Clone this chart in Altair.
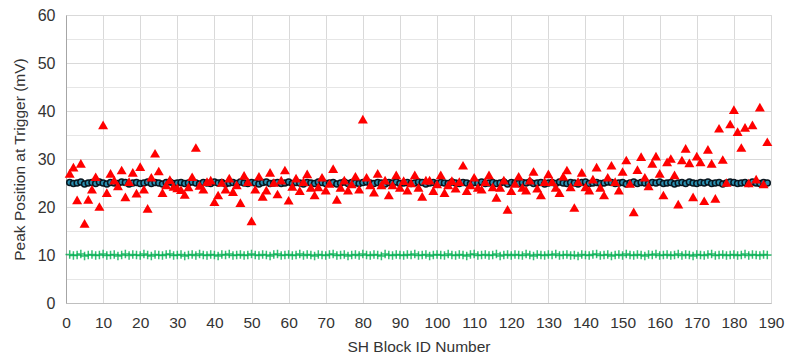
import altair as alt
import pandas as pd

ids = list(range(1, 190))

circle_vals = [
25.1,24.9,25.0,25.2,24.8,25.0,25.1,24.9,25.2,25.0,
24.8,25.1,25.0,24.9,25.2,25.1,24.8,25.0,25.1,24.9,
25.0,25.2,24.9,25.1,25.0,24.8,25.1,25.2,24.9,25.0,
25.1,24.9,25.0,25.2,25.0,24.8,25.1,25.0,24.9,25.2,
25.0,25.1,24.8,25.0,25.1,24.9,25.2,25.0,24.9,25.1,
25.0,24.8,25.1,25.2,24.9,25.0,25.1,24.9,25.0,25.2,
24.9,25.1,25.0,24.8,25.1,25.0,24.9,25.2,25.1,24.9,
25.0,25.1,24.8,25.0,25.2,24.9,25.1,25.0,24.9,25.1,
25.2,25.0,24.9,25.1,25.0,24.8,25.1,25.0,25.2,24.9,
25.0,25.1,24.9,25.0,25.2,25.1,24.8,25.0,25.1,24.9,
25.1,25.0,24.9,25.2,25.0,24.9,25.1,25.0,24.8,25.1,
25.0,25.2,24.9,25.0,25.1,24.9,25.0,25.2,24.8,25.1,
25.0,24.9,25.1,25.0,25.2,24.9,25.0,25.1,24.8,25.0,
25.1,24.9,25.2,25.0,24.9,25.1,25.0,24.8,25.1,25.2,
24.9,25.0,25.1,24.9,25.0,25.2,25.1,24.9,25.0,25.1,
24.8,25.0,25.2,24.9,25.1,25.0,24.9,25.1,25.0,25.2,
24.9,25.0,25.1,24.8,25.0,25.1,24.9,25.2,25.0,24.9,
25.1,25.0,25.2,24.9,25.0,25.1,24.8,25.0,25.2,25.1,
24.9,25.0,25.1,24.9,25.2,25.0,24.9,25.1,25.0,
]

triangle_vals = [
27.0,28.3,21.5,29.1,16.6,21.6,23.7,26.3,20.1,37.1,
23.0,27.0,25.6,24.4,27.7,22.1,25.3,27.2,22.9,28.4,
23.7,19.7,26.2,31.2,27.5,23.0,24.6,25.7,24.3,24.0,
23.6,22.6,24.2,26.3,32.4,24.5,23.7,25.3,25.6,21.1,
22.5,25.1,23.7,26.0,23.2,24.6,20.9,26.6,25.3,17.1,
23.7,26.4,22.2,23.5,27.2,25.1,22.7,25.6,27.7,21.4,
24.3,26.0,23.4,25.3,26.9,24.1,22.5,24.2,26.2,23.5,
24.9,28.0,21.6,24.1,25.6,23.5,24.8,26.4,23.7,38.3,
26.2,24.6,23.1,27.0,24.6,25.6,22.5,24.6,26.7,24.1,
25.5,23.5,25.0,26.7,24.1,22.2,25.6,25.6,23.4,24.8,
26.7,23.0,24.6,25.5,23.9,25.3,28.7,23.4,24.6,26.2,
24.1,23.7,25.3,26.7,24.2,22.0,24.1,25.6,19.5,23.4,
24.9,26.4,24.1,23.5,25.6,27.4,23.9,22.5,25.3,26.9,
25.3,24.1,23.0,26.4,27.7,24.2,19.9,25.3,27.2,24.2,
23.5,25.8,28.3,24.1,22.5,26.2,28.7,25.3,23.5,27.4,
29.8,24.9,19.0,27.8,30.5,26.2,24.4,29.1,30.6,27.0,
22.5,29.4,30.1,26.7,20.6,29.8,32.2,29.2,22.1,30.6,
29.4,21.3,32.0,29.1,21.8,36.4,29.9,25.1,37.3,40.3,
35.7,32.4,36.6,25.0,37.1,25.8,40.8,24.8,33.6,
]

plus_vals = [
10.1,9.9,10.0,10.2,9.8,10.0,10.1,9.9,10.0,10.2,
9.9,10.0,10.1,9.8,10.0,10.2,9.9,10.1,10.0,9.9,
10.2,10.0,9.8,10.1,10.0,9.9,10.1,10.2,9.9,10.0,
10.1,9.8,10.0,10.1,9.9,10.2,10.0,9.9,10.1,10.0,
9.8,10.1,10.0,10.2,9.9,10.0,10.1,9.9,10.0,10.2,
10.0,9.9,10.1,10.0,9.8,10.1,10.2,9.9,10.0,10.1,
9.9,10.0,10.2,9.9,10.1,10.0,9.8,10.1,10.0,9.9,
10.1,10.2,9.9,10.0,10.1,9.8,10.0,10.1,9.9,10.2,
10.0,9.9,10.1,10.0,9.8,10.2,10.0,9.9,10.1,10.0,
9.9,10.1,10.0,10.2,9.9,10.0,10.1,9.8,10.0,10.1,
10.0,9.9,10.2,10.0,9.9,10.1,10.0,9.8,10.1,10.2,
9.9,10.0,10.1,9.9,10.0,10.2,9.8,10.0,10.1,9.9,
10.1,10.0,9.9,10.2,10.0,9.8,10.1,10.0,9.9,10.1,
10.0,10.2,9.9,10.0,10.1,9.9,10.0,9.8,10.1,10.0,
9.9,10.1,10.2,9.9,10.0,10.1,9.8,10.0,10.1,9.9,
10.2,10.0,9.9,10.1,10.0,9.8,10.1,10.0,10.2,9.9,
10.0,10.1,9.9,10.0,10.2,9.9,10.1,10.0,9.8,10.1,
10.0,9.9,10.1,10.2,9.9,10.0,10.1,9.9,10.0,10.1,
9.9,10.0,10.2,9.9,10.1,10.0,9.9,10.1,10.0,
]

x_ticks = list(range(0, 191, 10))
y_ticks = list(range(0, 61, 5))

df_c = pd.DataFrame({"id": ids, "val": circle_vals})
df_t = pd.DataFrame({"id": ids, "val": triangle_vals})
df_p = pd.DataFrame({"id": ids, "val": plus_vals})

FONT = "Liberation Sans"
TXT = "#333333"

x_enc = alt.X(
    "id:Q",
    scale=alt.Scale(domain=[0, 190], nice=False, zero=False),
    axis=alt.Axis(
        values=x_ticks, title="SH Block ID Number", grid=True,
        gridColor="#d9d9d9", ticks=False, domain=True, domainColor="#bfbfbf",
        labelPadding=12, titlePadding=9, labelFontSize=15.5, titleFontSize=15.5,
        labelFont=FONT, titleFont=FONT, labelColor=TXT, titleColor=TXT,
        titleFontWeight="normal", labelFlush=False,
    ),
)
y_axis = alt.Axis(
    values=y_ticks, title="Peak Position at Trigger (mV)", grid=True,
    gridColor={"condition": {"test": "datum.value % 10 === 0", "value": "#d9d9d9"}, "value": "#e6e6e6"},
    labelExpr="datum.value % 10 === 0 ? datum.label : ''",
    ticks=False, domain=True, domainColor="#a6a6a6",
    labelPadding=11, titlePadding=10, labelFontSize=16, titleFontSize=15.5,
    labelFont=FONT, titleFont=FONT, labelColor=TXT, titleColor=TXT,
    titleFontWeight="normal",
)
y_scale = alt.Scale(domain=[0, 60], nice=False)

circles = alt.Chart(df_c).mark_point(
    shape="circle", filled=True, size=36, fill="#2a8fb0", stroke="#08161f",
    strokeWidth=1.5, opacity=1,
).encode(x=x_enc, y=alt.Y("val:Q", scale=y_scale, axis=y_axis))

plus = alt.Chart(df_p).mark_point(
    shape="M-1,0L1,0M0,-1L0,1", filled=False, size=72, stroke="#00b050",
    strokeWidth=1.5, opacity=0.8,
).encode(x=x_enc, y=alt.Y("val:Q", scale=y_scale, axis=y_axis))

tri = alt.Chart(df_t).mark_point(
    shape="triangle-up", filled=True, size=100, color="#ff0000", opacity=1,
).encode(x=x_enc, y=alt.Y("val:Q", scale=y_scale, axis=y_axis))

chart = alt.layer(circles, plus, tri).properties(
    width=705, height=288,
    autosize=alt.AutoSizeParams(type="none"),
    padding={"left": 58, "top": 7, "right": 14, "bottom": 54},
).configure_view(stroke="#bfbfbf", strokeWidth=1).configure(background="white")

chart.save("out.html", embed_options={"renderer": "svg", "actions": False})
